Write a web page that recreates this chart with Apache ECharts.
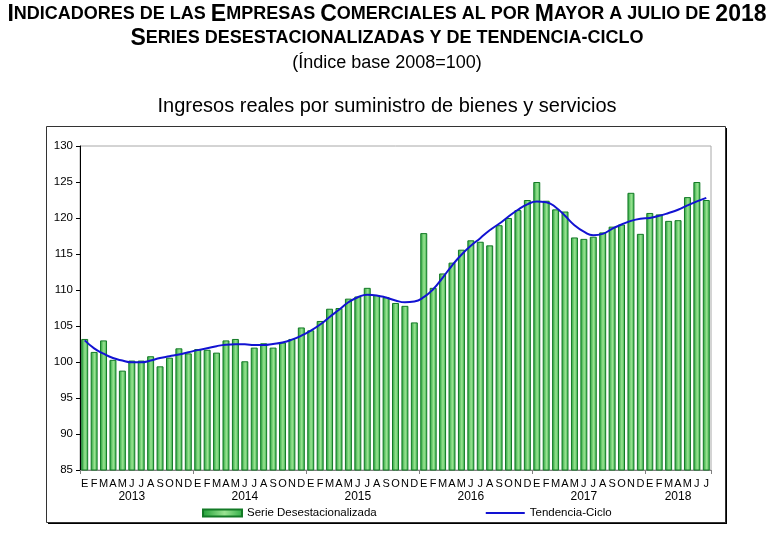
<!DOCTYPE html>
<html><head><meta charset="utf-8">
<script src="https://cdn.jsdelivr.net/npm/echarts@6/dist/echarts.min.js"></script>
<style>html,body{margin:0;padding:0;background:#fff}#c{width:774px;height:534px}</style>
</head><body><div id="c"></div>
<script>
const monthLetters = ['E','F','M','A','M','J','J','A','S','O','N','D'];
const years = ['2013','2014','2015','2016','2017','2018'];
const monthsPerYear = [12,12,12,12,12,7];
const yearLabelMonth = [5,5,5,5,5,3];
const serieDesestacionalizada = [
  103.2,101.4,103.0,100.3,98.8,100.2,100.2,100.8,99.4,100.6,101.9,101.2,
  101.8,101.7,101.3,103.0,103.2,100.1,102.0,102.6,102.0,102.7,103.2,104.8,
  104.4,105.7,107.4,107.5,108.8,109.1,110.3,109.3,109.0,108.2,107.8,105.5,
  117.9,110.3,112.3,113.8,115.6,116.9,116.7,116.2,119.0,120.0,121.1,122.5,
  125.0,122.4,121.2,120.9,117.3,117.1,117.4,118.0,118.8,119.1,123.5,117.8,
  120.7,120.5,119.6,119.7,122.9,125.0,122.5
];
const tendenciaCiclo = [
  103.0,101.9,101.15,100.55,100.2,99.95,99.95,100.2,100.55,100.8,101.05,101.35,
  101.65,101.9,102.2,102.4,102.45,102.45,102.35,102.35,102.5,102.7,103.1,103.65,
  104.35,105.2,106.25,107.25,108.3,109.0,109.35,109.25,108.95,108.55,108.3,108.4,
  109.0,110.1,111.7,113.4,114.9,116.15,117.2,118.3,119.2,120.2,121.15,121.9,
  122.3,122.2,121.5,120.3,119.0,118.1,117.6,117.8,118.5,119.1,119.6,119.9,
  120.0,120.3,120.7,121.15,121.75,122.3,122.8
];
const yMin = 85, yMax = 130, yInterval = 5;
const seriesNames = ['Serie Desestacionalizada','Tendencia-Ciclo'];

const categories = [];
const yearLabelIdx = [];
years.forEach((y, i) => {
  yearLabelIdx.push(categories.length + yearLabelMonth[i]);
  for (let m = 0; m < monthsPerYear[i]; m++) categories.push(monthLetters[m] + ' ' + y);
});

const narrow = '"Liberation Sans Narrow","Arial Narrow","Liberation Sans",Arial,sans-serif';
const sans = '"Liberation Sans",Arial,sans-serif';
const capsRich = {
  b: { fontFamily: narrow, fontWeight: 'bold', fontSize: 23, color: '#000' },
  s: { fontFamily: narrow, fontWeight: 'bold', fontSize: 18, color: '#000' }
};
const transparent = 'rgba(0,0,0,0)';

const chart = echarts.init(document.getElementById('c'), null, {renderer:'canvas'});
chart.setOption({
  backgroundColor: '#fff',
  animation: false,
  title: [
    {
      text: '{b|I}{s|NDICADORES DE LAS }{b|E}{s|MPRESAS }{b|C}{s|OMERCIALES AL POR }{b|M}{s|AYOR A JULIO DE }{b|2018}',
      left: 'center', top: 3, padding: 0, textStyle: { rich: capsRich }
    },
    {
      text: '{b|S}{s|ERIES DESESTACIONALIZADAS Y DE TENDENCIA-CICLO}',
      left: 'center', top: 27, padding: 0, textStyle: { rich: capsRich }
    },
    {
      text: '(Índice base 2008=100)', left: 'center', top: 54, padding: 0,
      textStyle: { fontFamily: narrow, fontWeight: 'normal', fontSize: 18, color: '#000' }
    },
    {
      text: 'Ingresos reales por suministro de bienes y servicios', left: 'center', top: 96, padding: 0,
      textStyle: { fontFamily: sans, fontWeight: 'normal', fontSize: 20, color: '#000' }
    }
  ],
  graphic: [
    { type: 'rect', left: 48, top: 128, z: -10, silent: true,
      shape: { width: 679, height: 396 }, style: { fill: '#000' } },
    { type: 'rect', left: 46, top: 126, z: -9, silent: true,
      shape: { width: 679, height: 396 }, style: { fill: '#fff', stroke: '#333', lineWidth: 1 } }
  ],
  grid: { left: 80, right: 63, top: 146, bottom: 64, show: true, borderColor: '#a8a8a8', borderWidth: 1, containLabel: false },
  legend: {
    left: 202, top: 507, padding: 0, itemWidth: 39, itemHeight: 7, itemGap: 108,
    textStyle: { fontFamily: sans, fontSize: 11.5, color: '#000' },
    data: [
      { name: seriesNames[0], icon: 'rect' },
      { name: seriesNames[1], itemStyle: { color: transparent, borderColor: transparent, borderWidth: 0, opacity: 0 } }
    ]
  },
  xAxis: [
    {
      type: 'category', data: categories, position: 'bottom', boundaryGap: true,
      axisLine: { show: true, lineStyle: { color: '#808080', width: 1 } },
      axisTick: { show: true, length: 4, interval: (i) => i % 12 === 0, lineStyle: { color: '#808080' } },
      axisLabel: { interval: 0, margin: 8, fontFamily: sans, fontSize: 11, color: '#000',
        formatter: (v) => v.split(' ')[0] }
    },
    {
      type: 'category', data: categories, position: 'bottom', offset: 13, boundaryGap: true,
      axisLine: { show: false }, axisTick: { show: false },
      axisLabel: { interval: (i) => yearLabelIdx.includes(i), margin: 8, fontFamily: sans, fontSize: 12, color: '#000',
        formatter: (v) => v.split(' ')[1] }
    }
  ],
  yAxis: {
    type: 'value', min: yMin, max: yMax, interval: yInterval,
    axisLine: { show: true, lineStyle: { color: '#000', width: 1 } },
    axisTick: { show: true, length: 4, lineStyle: { color: '#000' } },
    splitLine: { show: false },
    axisLabel: { margin: 7, fontFamily: sans, fontSize: 11.5, color: '#000' }
  },
  series: [
    {
      name: seriesNames[0], type: 'bar', data: serieDesestacionalizada, barCategoryGap: '26%',
      itemStyle: {
        color: { type: 'linear', x: 0, y: 0, x2: 1, y2: 0, colorStops: [
          { offset: 0, color: '#1e9e35' }, { offset: 0.55, color: '#9ae392' }, { offset: 1, color: '#2fae45' } ] },
        borderColor: '#137a26', borderWidth: 1
      }
    },
    {
      name: seriesNames[1], type: 'line', data: tendenciaCiclo, smooth: 0.5, symbol: 'none',
      lineStyle: { color: '#1212d2', width: 2 }, itemStyle: { color: '#1212d2' }
    }
  ]
});
</script></body></html>
